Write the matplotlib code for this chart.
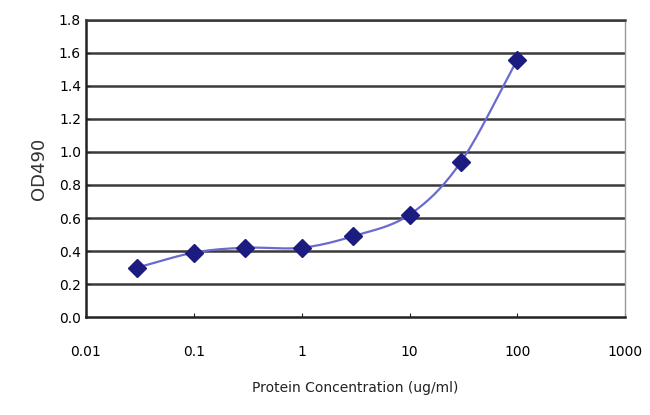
import numpy as np
import matplotlib
matplotlib.use("Agg")
import matplotlib.pyplot as plt

# data
conc = [0.03, 0.1, 0.3, 1, 3, 10, 30, 100]
od490 = [0.30, 0.39, 0.42, 0.42, 0.49, 0.62, 0.94, 1.56]
y_ticks = [0.0, 0.2, 0.4, 0.6, 0.8, 1.0, 1.2, 1.4, 1.6, 1.8]
x_ticks = [0.01, 0.1, 1, 10, 100, 1000]
x_labels = ["0.01", "0.1", "1", "10", "100", "1000"]


def smooth(xs, ys, n=20):
    # Catmull-Rom through the points in log-x space, like Excel's smoothed line
    lx = np.log10(xs)
    y = np.asarray(ys, dtype=float)
    px = np.concatenate([[2 * lx[0] - lx[1]], lx, [2 * lx[-1] - lx[-2]]])
    py = np.concatenate([[2 * y[0] - y[1]], y, [2 * y[-1] - y[-2]]])
    outx, outy = [], []
    t = np.linspace(0, 1, n)
    for i in range(1, len(px) - 2):
        for p, out in ((px, outx), (py, outy)):
            p0, p1, p2, p3 = p[i - 1], p[i], p[i + 1], p[i + 2]
            out.extend(0.5 * (2 * p1 + (-p0 + p2) * t
                              + (2 * p0 - 5 * p1 + 4 * p2 - p3) * t ** 2
                              + (-p0 + 3 * p1 - 3 * p2 + p3) * t ** 3))
    return 10 ** np.array(outx), np.array(outy)


fig = plt.figure(figsize=(6.5, 4.15), dpi=100)
ax = fig.add_axes([0.132, 0.236, 0.83, 0.716])

for yv in y_ticks[1:]:
    ax.axhline(yv, color="#3a3a3a", lw=1.8, zorder=1)

sx, sy = smooth(conc, od490)
ax.plot(sx, sy, color="#6a6ad0", lw=1.6, zorder=2)
ax.plot(conc, od490, ls="none", marker="D", ms=9, color="#1c1c80", zorder=3)

ax.set_xscale("log")
ax.set_xlim(0.01, 1000)
ax.set_ylim(0, 1.8)
ax.set_xticks(x_ticks)
ax.set_xticklabels(x_labels)
ax.minorticks_off()
ax.set_yticks(y_ticks)
ax.set_yticklabels(["%.1f" % v for v in y_ticks])
ax.tick_params(axis="both", labelsize=10, color="#222222", length=3, direction="in")
ax.tick_params(axis="x", pad=20)

for side in ("left", "bottom"):
    ax.spines[side].set_color("#222222")
    ax.spines[side].set_linewidth(1.8)
ax.spines["top"].set_color("#3a3a3a")
ax.spines["top"].set_linewidth(1.8)
ax.spines["right"].set_color("#999999")
ax.spines["right"].set_linewidth(1.0)

ax.set_ylabel("OD490", fontsize=13, color="#333333", labelpad=8)
ax.set_xlabel("Protein Concentration (ug/ml)", fontsize=10, color="#222222", labelpad=16)

fig.savefig("out.png", dpi=100)
